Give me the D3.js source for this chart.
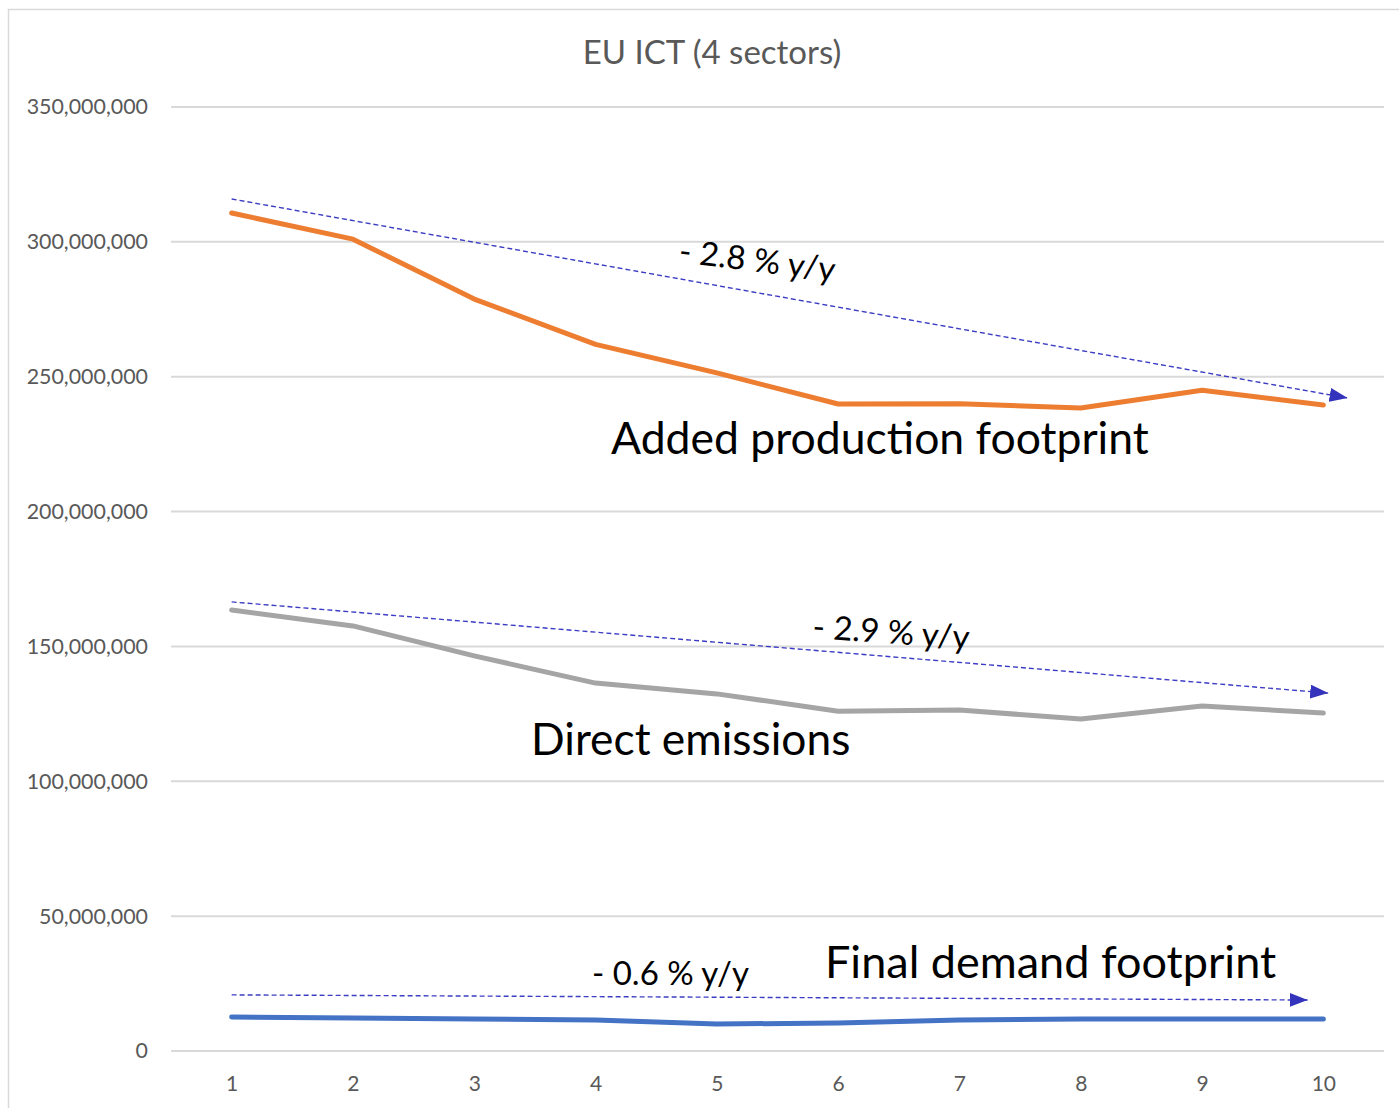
<!DOCTYPE html>
<html>
<head>
<meta charset="utf-8">
<script src="https://cdn.jsdelivr.net/npm/d3@7"></script>
<style>
  html, body { margin: 0; padding: 0; background: #fff; }
  svg { display: block; font-family: Lato, "Open Sans", sans-serif; }
</style>
</head>
<body>
<svg id="chart" width="1399" height="1108"></svg>
<script>
// ---- data ----
const categories = [1, 2, 3, 4, 5, 6, 7, 8, 9, 10];
const addedProduction = [310.7e6, 301.0e6, 278.8e6, 262.0e6, 251.4e6, 239.9e6, 240.0e6, 238.4e6, 245.0e6, 239.5e6];
const directEmissions = [163.5e6, 157.6e6, 146.5e6, 136.4e6, 132.4e6, 126.0e6, 126.4e6, 123.1e6, 127.9e6, 125.3e6];
const finalDemand = [12.6e6, 12.2e6, 11.9e6, 11.5e6, 10.0e6, 10.4e6, 11.5e6, 11.9e6, 11.9e6, 11.9e6];
const yTicks = [0, 50e6, 100e6, 150e6, 200e6, 250e6, 300e6, 350e6];
// trend arrows: [category position, value]
const trendAdded = [[1, 315.9e6], [10.2, 242.1e6]];
const trendDirect = [[1, 166.5e6], [10.04, 132.7e6]];
const trendFinal = [[1, 20.8e6], [9.87, 18.9e6]];
const titleText = "EU ICT (4 sectors)";

// ---- layout ----
const svg = d3.select("#chart");
const plotLeft = 171, plotRight = 1384, plotTop = 107, plotBottom = 1051;

const x = d3.scalePoint().domain(categories).range([plotLeft, plotRight]).padding(0.5);
const xLin = d3.scaleLinear().domain([1, 10]).range([x(1), x(10)]);
const y = d3.scaleLinear().domain([0, 350e6]).range([plotBottom, plotTop]);

// chart border
svg.append("rect").attr("x", 8.5).attr("y", 9.5).attr("width", 1400).attr("height", 1110)
  .attr("fill", "none").attr("stroke", "#d9d9d9").attr("stroke-width", 1.5);

// title
svg.append("text").attr("x", 712).attr("y", 64).attr("text-anchor", "middle")
  .attr("font-size", 33).attr("fill", "#595959").text(titleText);

// gridlines
svg.append("g").selectAll("line").data(yTicks).join("line")
  .attr("x1", plotLeft).attr("x2", plotRight)
  .attr("y1", d => y(d)).attr("y2", d => y(d))
  .attr("stroke", "#d9d9d9").attr("stroke-width", 2);

// y axis
const yAxis = d3.axisLeft(y).tickValues(yTicks).tickFormat(d3.format(",")).tickSize(0).tickPadding(0);
const gy = svg.append("g").attr("transform", `translate(148,0)`).call(yAxis);
gy.select(".domain").remove();
gy.selectAll("text").attr("font-size", 21.4).attr("fill", "#595959").attr("font-family", "Lato, sans-serif");

// x axis
const xAxis = d3.axisBottom(x).tickSize(0).tickPadding(0);
const gx = svg.append("g").attr("transform", `translate(0,1076)`).call(xAxis);
gx.select(".domain").remove();
gx.selectAll("text").attr("font-size", 21).attr("fill", "#595959").attr("font-family", "Lato, sans-serif");

// arrow marker
const defs = svg.append("defs");
defs.append("marker").attr("id", "arrow").attr("markerUnits", "userSpaceOnUse")
  .attr("viewBox", "0 0 18 14").attr("refX", 18).attr("refY", 7)
  .attr("markerWidth", 18).attr("markerHeight", 14).attr("orient", "auto")
  .append("path").attr("d", "M0,0 L18,7 L0,14 Z").attr("fill", "#3333bb");

// series lines
const line = d3.line().x((d, i) => x(categories[i])).y(d => y(d));
const series = [
  { values: finalDemand, color: "#4472c4" },
  { values: directEmissions, color: "#a5a5a5" },
  { values: addedProduction, color: "#ed7d31" }
];
svg.append("g").selectAll("path").data(series).join("path")
  .attr("d", d => line(d.values))
  .attr("fill", "none").attr("stroke", d => d.color).attr("stroke-width", 5)
  .attr("stroke-linecap", "round").attr("stroke-linejoin", "round");

// trend arrows
const tline = d3.line().x(d => xLin(d[0])).y(d => y(d[1]));
svg.append("g").selectAll("path").data([trendAdded, trendDirect, trendFinal]).join("path")
  .attr("d", d => tline(d))
  .attr("fill", "none").attr("stroke", "#3c3cc4").attr("stroke-width", 1.4)
  .attr("stroke-dasharray", "5,3").attr("marker-end", "url(#arrow)");

// annotations
const ann = [
  { text: "- 2.8 % y/y", x: 678, y: 262, size: 33, rot: 7 },
  { text: "- 2.9 % y/y", x: 812, y: 638, size: 33, rot: 4 },
  { text: "- 0.6 % y/y", x: 592, y: 985, size: 33, rot: 0 },
  { text: "Added production footprint", x: 611, y: 454, size: 44.5, rot: 0 },
  { text: "Direct emissions", x: 531, y: 755, size: 44.3, rot: 0 },
  { text: "Final demand footprint", x: 825, y: 978, size: 45, rot: 0 }
];
svg.append("g").selectAll("text").data(ann).join("text")
  .attr("transform", d => `translate(${d.x},${d.y}) rotate(${d.rot})`)
  .attr("font-size", d => d.size).attr("fill", "#000").text(d => d.text);
</script>
</body>
</html>
